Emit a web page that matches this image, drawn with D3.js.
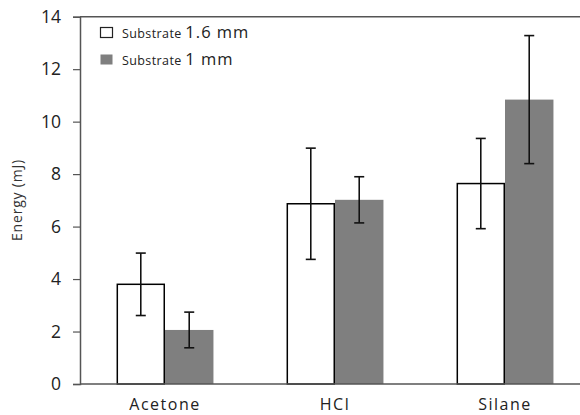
<!DOCTYPE html>
<html>
<head>
<meta charset="utf-8">
<script src="https://cdn.jsdelivr.net/npm/d3@7"></script>
<style>
  html, body { margin: 0; padding: 0; background: #fff; }
  svg { display: block; }
  text { font-family: "Open Sans", "Noto Sans", sans-serif; }
</style>
</head>
<body>
<svg id="chart" width="580" height="415"></svg>
<script>
const categories = ["Acetone", "HCl", "Silane"];
const seriesNames = ["1.6 mm", "1 mm"];
const values16 = [3.80, 6.87, 7.64];
const err16 = [1.19, 2.12, 1.72];
const values1 = [2.06, 7.02, 10.84];
const err1 = [0.68, 0.88, 2.44];
const yTicks = [0, 2, 4, 6, 8, 10, 12, 14];

const svg = d3.select("#chart");
const plotLeft = 80, plotTop = 16.7, plotBottom = 384, plotRightEnd = 590;

const x = d3.scaleBand().domain(categories).range([plotLeft, plotRightEnd])
  .paddingInner(0.43).paddingOuter(0.215);
const xs = d3.scaleBand().domain(seriesNames).range([0, x.bandwidth()]);
const y = d3.scaleLinear().domain([0, 14]).range([plotBottom, plotTop]);

const series = [
  { name: seriesNames[0], vals: values16, errs: err16, fill: "#ffffff", stroke: "#000" },
  { name: seriesNames[1], vals: values1, errs: err1, fill: "#7f7f7f", stroke: "none" }
];

// bars (grey first so white outline draws over shared edge)
[1, 0].forEach(si => {
  const s = series[si];
  const outlined = s.stroke !== "none";
  svg.append("g").selectAll("rect").data(categories).join("rect")
    .attr("x", c => x(c) + xs(s.name) + (outlined ? 0.75 : 0))
    .attr("y", (c, i) => y(s.vals[i]))
    .attr("width", xs.bandwidth() - (outlined ? 1.5 : 0))
    .attr("height", (c, i) => plotBottom - y(s.vals[i]))
    .attr("fill", s.fill)
    .attr("stroke", s.stroke)
    .attr("stroke-width", 1.5);
});

// error bars
series.forEach(s => {
  const g = svg.append("g");
  categories.forEach((c, i) => {
    const cx = x(c) + xs(s.name) + xs.bandwidth() / 2;
    const hi = y(s.vals[i] + s.errs[i]), lo = y(s.vals[i] - s.errs[i]);
    g.append("line").attr("x1", cx).attr("x2", cx).attr("y1", hi).attr("y2", lo)
      .attr("stroke", "#111").attr("stroke-width", 1.6);
    [hi, lo].forEach(yy => g.append("line").attr("x1", cx - 5).attr("x2", cx + 5)
      .attr("y1", yy).attr("y2", yy).attr("stroke", "#111").attr("stroke-width", 1.6));
  });
});

// y axis
const yAxis = d3.axisLeft(y).tickValues(yTicks).tickSize(7).tickPadding(12).tickFormat(d3.format("d"));
const ga = svg.append("g").attr("transform", `translate(${plotLeft},0)`).call(yAxis);
ga.select(".domain").attr("stroke", "#555").attr("stroke-width", 1.5);
ga.selectAll(".tick line").attr("stroke", "#555").attr("stroke-width", 1.2);
ga.selectAll(".tick text").attr("font-size", 17.5).attr("fill", "#222")
  .style("font-family", "'Open Sans', sans-serif");

// baseline and top frame
svg.append("line").attr("x1", plotLeft).attr("x2", 580).attr("y1", y(0)).attr("y2", y(0))
  .attr("stroke", "#555").attr("stroke-width", 1.5);
svg.append("line").attr("x1", plotLeft).attr("x2", 580).attr("y1", y(14)).attr("y2", y(14))
  .attr("stroke", "#555").attr("stroke-width", 1.5);

// x labels
const xAxis = d3.axisBottom(x).tickSize(0).tickPadding(15);
const gx = svg.append("g").attr("transform", `translate(0,${plotBottom})`).call(xAxis);
gx.select(".domain").remove();
gx.selectAll(".tick text").attr("font-size", 16).attr("fill", "#222")
  .attr("letter-spacing", 1.5)
  .style("font-family", "'Open Sans', sans-serif");

// y title
svg.append("text").attr("transform", `translate(22,200) rotate(-90)`)
  .attr("text-anchor", "middle").attr("font-size", 14).attr("fill", "#333")
  .attr("letter-spacing", 0.8)
  .text("Energy (mJ)");

// legend
const legend = svg.append("g");
series.forEach((s, i) => {
  const ly = 38 + i * 27;
  legend.append("rect").attr("x", 100.5).attr("y", ly - 10.5).attr("width", 12).attr("height", 10)
    .attr("fill", s.fill).attr("stroke", s.stroke === "none" ? "none" : "#222").attr("stroke-width", 1.2);
  const t = legend.append("text").attr("x", 122).attr("y", ly).attr("fill", "#222");
  t.append("tspan").attr("font-size", 12.5).attr("letter-spacing", 0.4).text("Substrate ");
  t.append("tspan").attr("font-size", 16.5).attr("letter-spacing", 1).text(s.name);
});
</script>
</body>
</html>
